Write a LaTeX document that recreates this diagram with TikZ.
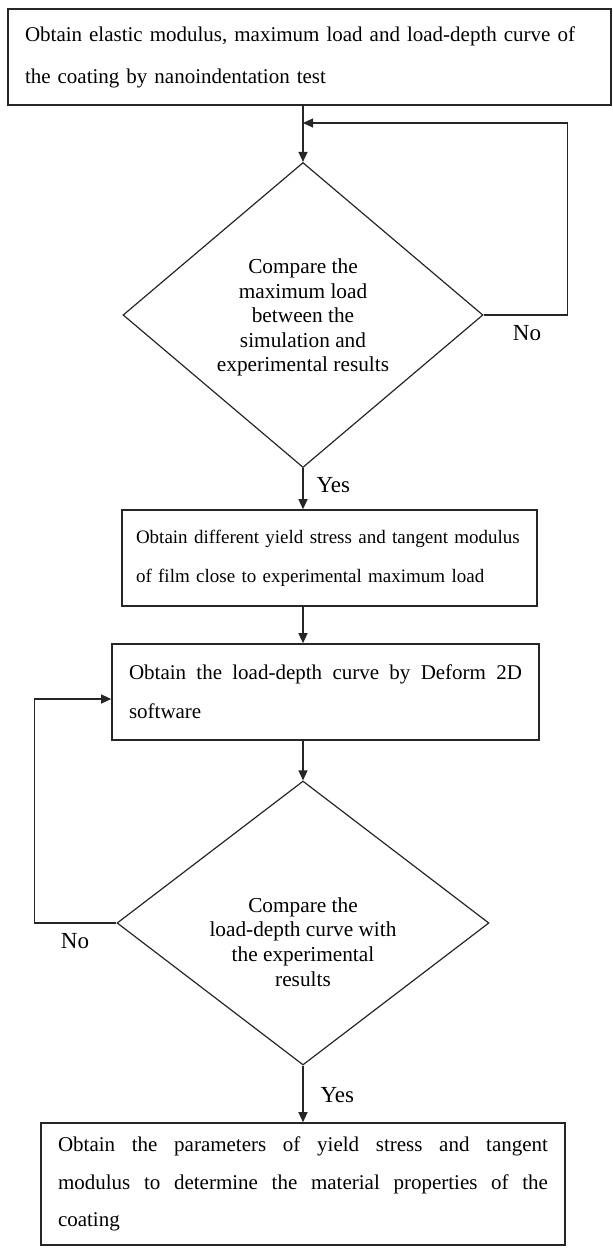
\documentclass[tikz,border=0pt]{standalone}
\usepackage{fontspec}
\setmainfont{Liberation Serif}
\usetikzlibrary{positioning,arrows.meta,shapes.geometric}

\begin{document}
\begin{tikzpicture}[
			x=1pt, y=-1pt,
			box/.style={
					draw=black!85,
					line width=1.6pt,
					inner ysep=0pt,
					minimum height=96pt
				},
			decision/.style={
					draw=black!85,
					diamond,
					line width=1.2pt,
					inner sep=0pt
				},
			dtext/.style={
					align=center,
					font=\fontsize{21.3}{24.6}\selectfont
				},
			lbl/.style={font=\fontsize{23}{26}\selectfont},
			arr/.style={
					-{Triangle[length=10pt,width=9pt]},
					draw=black!85,
					line width=1.2pt
				}
		]

		\path[use as bounding box] (0,0) rectangle (613,1254);

		\node (obtain) [box, text width=569pt, inner xsep=17pt, align=left,
			font=\fontsize{21}{42}\selectfont] at (309.5,57)
		{Obtain elastic modulus, maximum load and load-depth curve of\\the coating by nanoindentation test};

		\node (cmp1) [decision, minimum width=360pt, minimum height=305pt] at (303,315) {};
		\node (cmp1txt) [dtext] at (303,317.5)
		{Compare the\\maximum load\\between the\\simulation and\\experimental results};

		\node (yield) [box, text width=387pt, inner xsep=14pt, align=left,
			font=\fontsize{19}{39}\selectfont] at (329.5,558)
		{Obtain different yield stress and tangent modulus\\of film close to experimental maximum load};

		\node (deform) [box, text width=393pt, inner xsep=17pt, align=justify,
			font=\fontsize{21}{39}\selectfont] at (325.5,692)
		{Obtain the load-depth curve by Deform 2D\linebreak software};

		\node (cmp2) [decision, minimum width=372pt, minimum height=284pt] at (303,923) {};
		\node (cmp2txt) [dtext] at (303,942)
		{Compare the\\load-depth curve with\\the experimental\\results};

		\node (params) [box, text width=490pt, inner xsep=17pt, minimum height=122pt,
			align=justify, font=\fontsize{21}{37.5}\selectfont] at (303,1184)
		{Obtain the parameters of yield stress and tangent\linebreak modulus to determine the material properties of the\linebreak coating};

		\coordinate (join1) at (303,123);

		\draw[arr] (obtain.south -| cmp1.north) -- (cmp1.north);
		\draw[arr] (cmp1.east) -- ++(84,0) |- (join1);
		\node (no1) [lbl] at (527,333) {No};
		\draw[arr] (cmp1.south) -- (cmp1.south |- yield.north);
		\node (yes1) [lbl, anchor=west] at (313,485) {Yes};
		\draw[arr] (yield.south -| cmp1.north) -- (cmp1.north |- deform.north);
		\draw[arr] (deform.south -| cmp2.north) -- (cmp2.north);
		\draw[arr] (cmp2.west) -- ++(-82,0) |- ([yshift=-7pt]deform.west);
		\node (no2) [lbl] at (75,941) {No};
		\draw[arr] (cmp2.south) -- (params.north);
		\node (yes2) [lbl, anchor=west] at (317,1095) {Yes};

	\end{tikzpicture}
\end{document}
